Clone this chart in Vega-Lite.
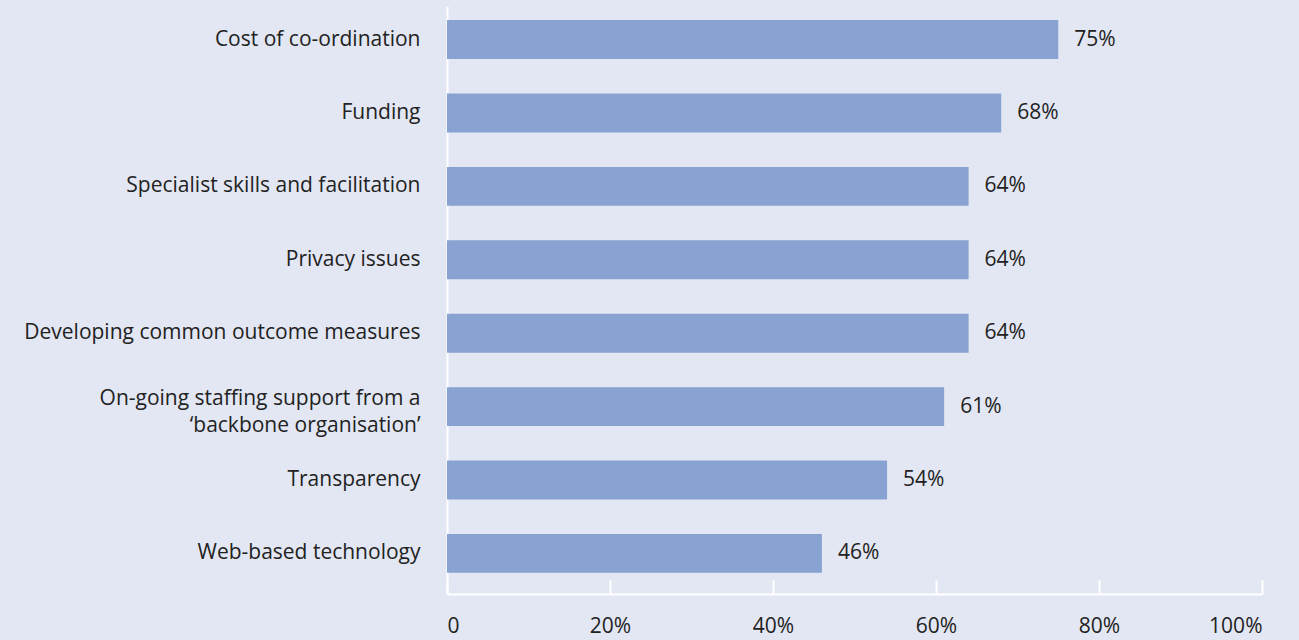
{
  "$schema": "https://vega.github.io/schema/vega-lite/v6.json",
  "autosize": {"type": "none"},
  "padding": {"left": 447, "top": 6, "right": 37, "bottom": 46},
  "width": 815,
  "height": 588,
  "background": "#e3e7f3",
  "config": {
    "view": {"stroke": null},
    "font": "Open Sans",
    "axis": {"grid": false}
  },
  "data": {
    "values": [
      {"item": "Cost of co-ordination", "pct": 0.75},
      {"item": "Funding", "pct": 0.68},
      {"item": "Specialist skills and facilitation", "pct": 0.64},
      {"item": "Privacy issues", "pct": 0.64},
      {"item": "Developing common outcome measures", "pct": 0.64},
      {"item": "On-going staffing support from a|‘backbone organisation’", "pct": 0.61},
      {"item": "Transparency", "pct": 0.54},
      {"item": "Web-based technology", "pct": 0.46}
    ]
  },
  "encoding": {
    "y": {
      "field": "item",
      "type": "nominal",
      "sort": null,
      "scale": {"paddingInner": 0.47, "paddingOuter": 0.24, "align": 0.4},
      "axis": {
        "title": null,
        "ticks": false,
        "domainColor": "#ffffff",
        "domainWidth": 2,
        "labelPadding": 27,
        "labelFontSize": 21,
        "labelColor": "#222222",
        "labelLimit": 500,
        "labelLineHeight": 27,
        "labelOffset": {"condition": {"test": "indexof(datum.value, '|') >= 0", "value": -8}, "value": 0},
        "labelExpr": "split(datum.label, '|')"
      }
    },
    "x": {
      "field": "pct",
      "type": "quantitative",
      "scale": {"domain": [0, 1]},
      "axis": {
        "title": null,
        "values": [0, 0.2, 0.4, 0.6, 0.8, 1],
        "format": ".0%",
        "labelExpr": "datum.value == 0 ? '0' : datum.label",
        "domainColor": "#ffffff",
        "domainWidth": 2,
        "tickColor": "#ffffff",
        "tickWidth": 2,
        "tickSize": -14,
        "labelPadding": 35,
        "labelFontSize": 21,
        "labelColor": "#222222"
      }
    }
  },
  "layer": [
    {"mark": {"type": "bar", "color": "#88a2d1"}},
    {
      "mark": {"type": "text", "align": "left", "dx": 16, "fontSize": 21, "color": "#222222", "font": "Open Sans"},
      "encoding": {"text": {"field": "pct", "type": "quantitative", "format": ".0%"}}
    }
  ]
}
